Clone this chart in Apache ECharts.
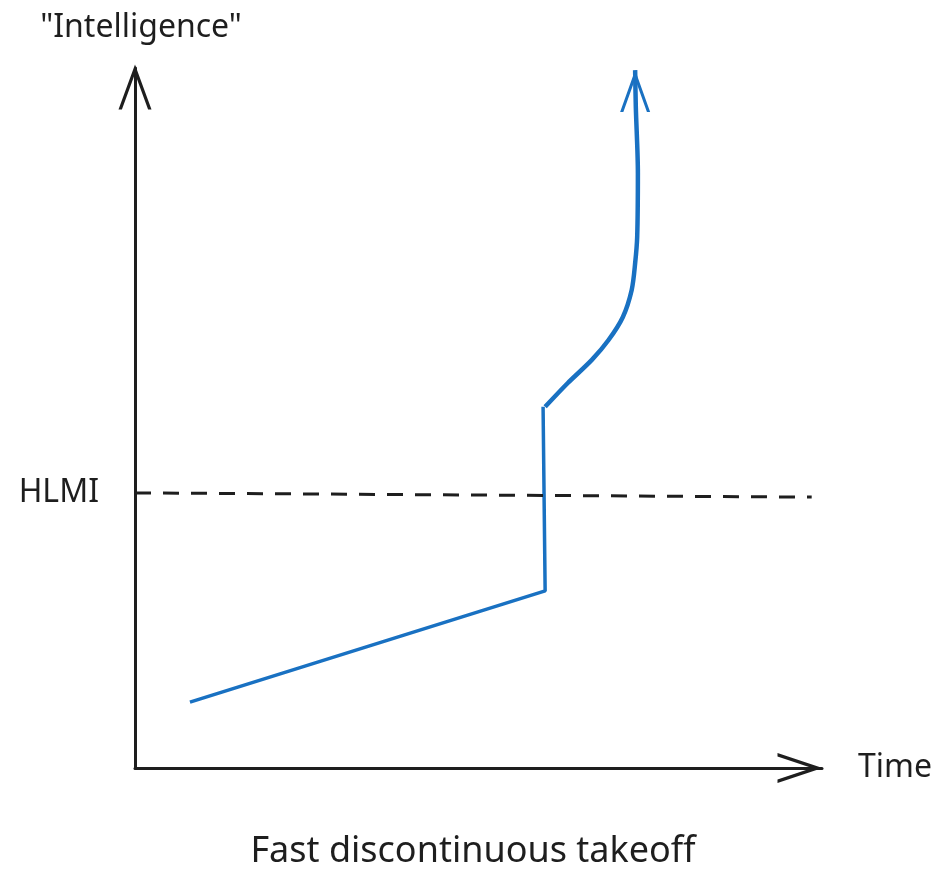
<!DOCTYPE html>
<html>
<head>
<meta charset="utf-8" />
<title>Fast discontinuous takeoff</title>
<script src="https://cdn.jsdelivr.net/npm/echarts@6/dist/echarts.min.js"></script>
<style>
  html, body { margin: 0; padding: 0; background: #ffffff; }
  #main { width: 946px; height: 875px; }
</style>
</head>
<body>
<div id="main"></div>
<script>
// 数据：时间 / 智能 (0-100)
const slowPart = [[8.0, 9.4], [59.7, 25.3], [59.4, 51.6]];
const takeoffPart = [
  [59.7, 51.6], [63.0, 55.0], [66.5, 58.3], [68.9, 61.1], [71.0, 64.4],
  [72.3, 68.3], [72.8, 72.1], [73.1, 75.9], [73.2, 85.0], [72.9, 94.4], [72.8, 99.7]
];
const hlmiLine = [[0, 39.3], [98.5, 38.7]];
const hlmiLabel = "HLMI";
const xName = "Time";
const yName = "\"Intelligence\"";
const titleText = "Fast discontinuous takeoff";

const ink = "#1e1e1e";
const blue = "#1971c2";
const fontFamily = "Noto Sans";

// 开口箭头（向上），w 宽 h 高 t 线宽
function chevron(w, h, t) {
  const apex = (t * 2 * h) / w;
  return "path://M0," + h + " L" + w / 2 + ",0 L" + w + "," + h +
    " L" + (w - t) + "," + h + " L" + w / 2 + "," + apex + " L" + t + "," + h + " Z";
}

let myChart = echarts.init(document.getElementById("main"));
myChart.setOption({
  backgroundColor: "#ffffff",
  animation: false,
  title: {
    text: titleText,
    left: "center",
    top: 829,
    textStyle: { color: ink, fontSize: 36, fontWeight: "normal", fontFamily: fontFamily },
  },
  grid: { left: 135, right: 124, top: 68, bottom: 107, containLabel: false },
  xAxis: {
    type: "value",
    min: 0,
    max: 100,
    name: xName,
    nameLocation: "end",
    nameGap: 36,
    nameTextStyle: { color: ink, fontSize: 32, fontFamily: fontFamily, verticalAlign: "middle", padding: [8, 0, 0, 0] },
    axisLine: {
      show: true,
      symbol: ["none", chevron(30, 45, 3.5)],
      symbolSize: [30, 45],
      symbolOffset: [0, -22],
      lineStyle: { color: ink, width: 3 },
    },
    axisTick: { show: false },
    axisLabel: { show: false },
    splitLine: { show: false },
  },
  yAxis: {
    type: "value",
    min: 0,
    max: 100,
    name: yName,
    nameLocation: "end",
    nameGap: 24,
    nameTextStyle: { color: ink, fontSize: 32, fontFamily: fontFamily, align: "center", padding: [0, 0, 0, 12] },
    axisLine: {
      show: true,
      symbol: ["none", chevron(33, 45, 3.4)],
      symbolSize: [33, 45],
      symbolOffset: [0, -19],
      lineStyle: { color: ink, width: 3 },
    },
    axisTick: { show: false },
    axisLabel: { show: false },
    splitLine: { show: false },
  },
  series: [
    {
      name: "slow",
      type: "line",
      data: slowPart,
      showSymbol: false,
      lineStyle: { color: blue, width: 3.5 },
      markLine: {
        silent: true,
        symbol: ["none", "none"],
        lineStyle: { color: ink, width: 3, type: [16, 12] },
        label: {
          show: true,
          position: "start",
          formatter: hlmiLabel,
          distance: 36,
          color: ink,
          fontSize: 32,
          fontFamily: fontFamily,
        },
        data: [[{ coord: hlmiLine[0] }, { coord: hlmiLine[1] }]],
      },
    },
    {
      name: "takeoff",
      type: "line",
      data: takeoffPart,
      smooth: 0.3,
      showSymbol: false,
      lineStyle: { color: blue, width: 4.5 },
      markPoint: {
        silent: true,
        symbol: chevron(30, 42, 3.2),
        symbolSize: [30, 42],
        symbolOffset: [0, 21],
        itemStyle: { color: blue },
        label: { show: false },
        data: [{ coord: takeoffPart[takeoffPart.length - 1] }],
      },
    },
  ],
});
</script>
</body>
</html>
